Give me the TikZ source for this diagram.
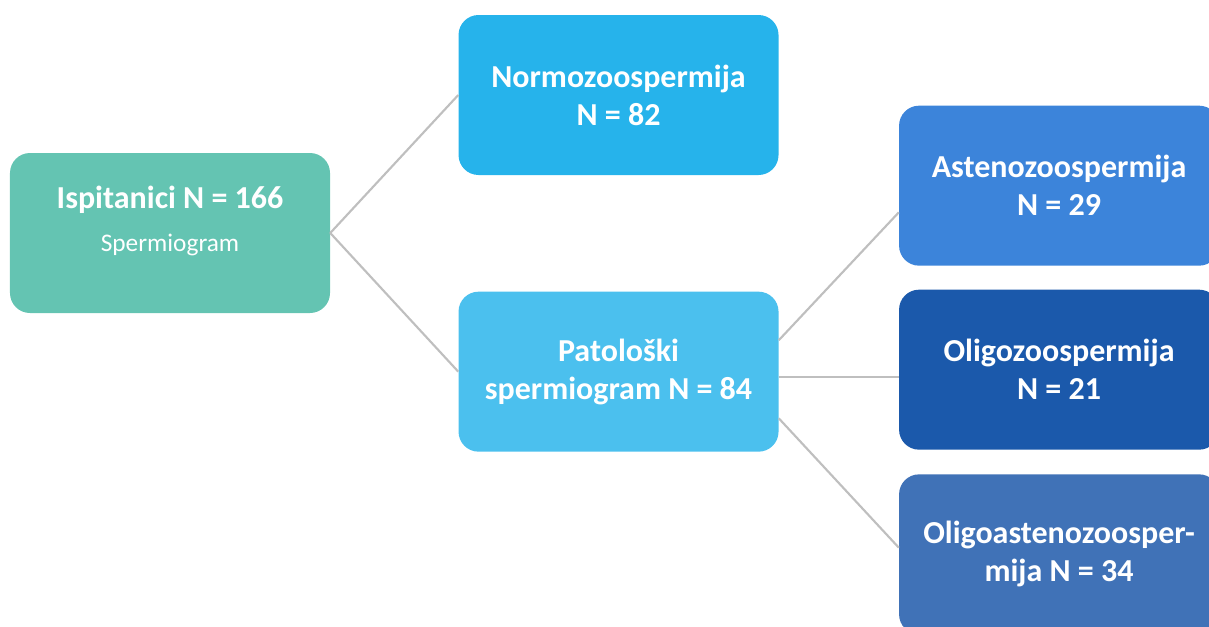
\documentclass[tikz,border=0pt]{standalone}
\usepackage{fontspec}
\setmainfont{Carlito}
\usepackage{xcolor}
\definecolor{rootgreen}{HTML}{64C4B2}
\definecolor{normoblue}{HTML}{26B3EB}
\definecolor{patblue}{HTML}{4BC0EE}
\definecolor{astblue}{HTML}{3C84DA}
\definecolor{oligoblue}{HTML}{1B59AB}
\definecolor{mixblue}{HTML}{4072B7}
\definecolor{linkgray}{HTML}{BFBFBF}
\usepackage{tikz}
\usetikzlibrary{positioning}

\begin{document}
\begin{tikzpicture}[
  node distance=96pt and 96pt,
  box/.style={rounded corners=15pt,align=center,minimum width=240pt,minimum height=120pt,inner sep=0pt,text=white,font=\bfseries\fontsize{24}{28.5}\selectfont},
  link/.style={draw=linkgray,line width=1.6pt}
]
\useasboundingbox (-127.5pt,174.75pt) rectangle (779.25pt,-294.75pt);
\node[box,fill=rootgreen] (root) at (0,0) {Ispitanici N = 166\\[4pt]{\mdseries\fontsize{19}{22}\selectfont Spermiogram}\\[-7pt]\mbox{}};
\node[box,fill=normoblue,right=of root,yshift=103.5pt] (normo) {Normozoospermija\\N = 82};
\node[box,fill=patblue,right=of root,yshift=-104pt] (pat) {Patološki\\spermiogram N = 84};
\node[box,fill=astblue,right=90pt of pat,yshift=139.5pt] (ast) {Astenozoospermija\\N = 29};
\node[box,fill=oligoblue,right=90pt of pat,yshift=1.5pt] (oligo) {Oligozoospermija\\N = 21};
\node[box,fill=mixblue,right=90pt of pat,yshift=-137pt] (mix) {Oligoastenozoosper-\\mija N = 34};
\draw[link] (root.east) -- (normo.west);
\draw[link] (root.east) -- (pat.west);
\draw[link] ([yshift=23.6pt]pat.east) -- ([yshift=-20pt]ast.west);
\draw[link] ([yshift=-4pt]pat.east) -- ([yshift=-4pt]pat.east -| oligo.west);
\draw[link] ([yshift=-35pt]pat.east) -- ([yshift=5pt]mix.west);
\end{tikzpicture}
\end{document}
